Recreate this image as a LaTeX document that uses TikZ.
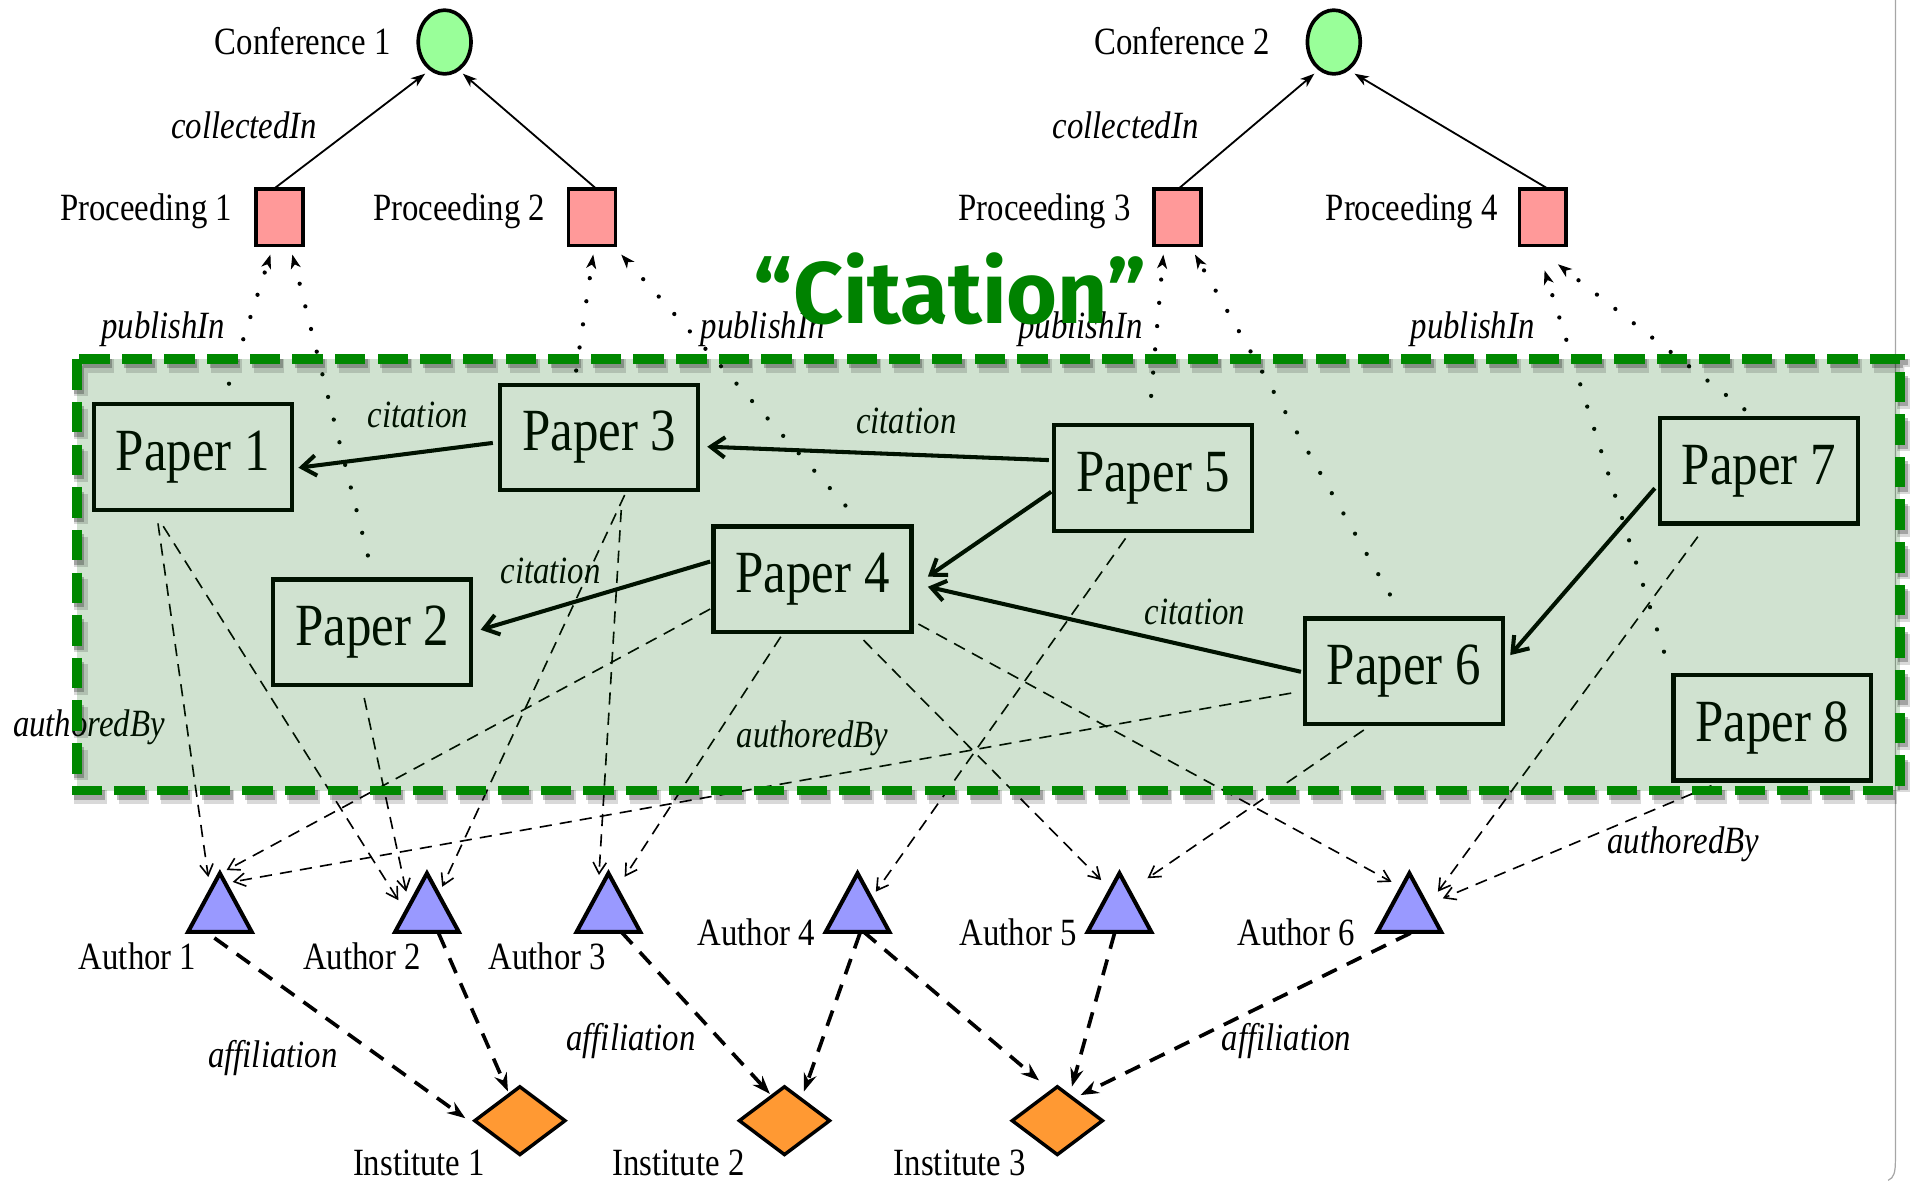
\documentclass[tikz,border=0pt]{standalone}
\usepackage{fontspec}
\setmainfont{Liberation Serif}[FakeStretch=0.85]
\newfontfamily\bannerfont{Fira Sans}
\usetikzlibrary{arrows.meta,calc,shapes.geometric}

\definecolor{confgreen}{RGB}{153,255,153}
\definecolor{procpink}{RGB}{255,153,153}
\definecolor{authblue}{RGB}{153,153,255}
\definecolor{instorange}{RGB}{255,153,51}
\definecolor{groupgreen}{RGB}{0,136,0}
\definecolor{tintgreen}{RGB}{0,98,0}
\definecolor{bannergreen}{RGB}{0,130,0}

\tikzset{
  lbl/.style={font=\fontsize{19}{21}\selectfont, inner sep=0pt, anchor=base},
  rel/.style={font=\itshape\fontsize{19}{21}\selectfont, inner sep=0pt, anchor=base},
  conf/.style={ellipse, draw, line width=1.8pt, fill=confgreen, minimum width=26pt, minimum height=31.4pt, inner sep=0pt},
  proc/.style={rectangle, draw, line width=1.8pt, fill=procpink, minimum width=23pt, minimum height=27.8pt, inner sep=0pt},
  paper/.style={rectangle, draw, line width=2.1pt, minimum width=97.5pt, minimum height=52pt, inner sep=0pt, font=\fontsize{29.5}{30}\selectfont},
  author/.style={rectangle, minimum width=31pt, minimum height=28.5pt, inner sep=0pt},
  authshape/.style={draw, line width=2pt, fill=authblue},
  inst/.style={rectangle, minimum width=44pt, minimum height=33pt, inner sep=0pt},
  instshape/.style={draw, line width=1.7pt, fill=instorange, line join=miter},
  collected/.style={-{Stealth[length=7pt,width=5pt,inset=2pt]}, line width=0.9pt},
  publish/.style={-{Stealth[length=7pt,width=5pt,inset=2pt,line width=0.5pt]}, line width=2.1pt, line cap=round, dash pattern=on 0pt off 11.5pt},
  cites/.style={-{Straight Barb[length=7pt,width=10pt]}, line width=2pt},
  authored/.style={-{Straight Barb[length=5.5pt,width=6.5pt]}, line width=0.8pt, dash pattern=on 6pt off 4pt},
  affil/.style={-{Stealth[length=9pt,width=6.5pt,inset=3pt]}, line width=1.8pt, dash pattern=on 8pt off 5.5pt},
  groupborder/.style={line width=4.8pt, dash pattern=on 15pt off 6pt},
}

\begin{document}
\begin{tikzpicture}[x=0.6pt, y=-0.6pt]
\useasboundingbox (0,0) rectangle (1568,969);

% page frame on the right
\draw[gray!70, line width=0.6pt] (1556,0) -- (1556,952) .. controls (1556,962) and (1555,967) .. (1550,969);

% conferences and proceedings
\node[conf] (conf1) at (365,34.5) {};
\node[conf] (conf2) at (1095,34.5) {};
\node[proc] (proc1) at (229.5,178.5) {};
\node[proc] (proc2) at (486,178.5) {};
\node[proc] (proc3) at (966.5,178.5) {};
\node[proc] (proc4) at (1266.5,178.5) {};

\node[lbl, anchor=base east] (lconf1) at (321,45) {Conference 1};
\node[lbl, anchor=base east] (lconf2) at (1043,45) {Conference 2};
\node[lbl, anchor=base east] (lproc1) at (191,181) {Proceeding 1};
\node[lbl, anchor=base east] (lproc2) at (448,181) {Proceeding 2};
\node[lbl, anchor=base east] (lproc3) at (928.5,181) {Proceeding 3};
\node[lbl, anchor=base east] (lproc4) at (1230,181) {Proceeding 4};

\draw[collected] ($(proc1)+(-4,-24)$) -- ($(conf1)+(-16,26)$);
\draw[collected] ($(proc2)+(3,-24)$) -- ($(conf1)+(15,26)$);
\draw[collected] ($(proc3)+(1.5,-24)$) -- ($(conf2)+(-16,26)$);
\draw[collected] ($(proc4)+(3.5,-24)$) -- ($(conf2)+(17,26)$);
\node[rel] (lcol1) at (200.5,113.5) {collectedIn};
\node[rel] (lcol2) at (924,113.5) {collectedIn};

% papers
\node[paper] (pap1) at (158.3,375.2) {Paper 1};
\node[paper] (pap2) at (305.6,519) {Paper 2};
\node[paper] (pap3) at (492,359.2) {Paper 3};
\node[paper] (pap4) at (667,475.5) {Paper 4};
\node[paper] (pap5) at (946.6,392.5) {Paper 5};
\node[paper] (pap6) at (1152.6,551) {Paper 6};
\node[paper] (pap7) at (1444,386.5) {Paper 7};
\node[paper] (pap8) at (1455,597.5) {Paper 8};

% publishIn
\draw[publish] ($(pap1)+(29.7,-60.2)$) -- ($(proc1)+(-7.5,30.5)$);
\draw[publish] ($(pap2)+(-3.6,-63)$) -- ($(proc1)+(10.5,30.5)$);
\draw[publish] ($(pap3)+(-19,-55)$) -- ($(proc2)+(1,30.5)$);
\draw[publish] ($(pap4)+(27,-60.5)$) -- ($(proc2)+(24,30.5)$);
\draw[publish] ($(pap5)+(-1.6,-67.5)$) -- ($(proc3)+(-11.5,30.5)$);
\draw[publish] ($(pap6)+(-11.6,-63)$) -- ($(proc3)+(14.5,30.5)$);
\draw[publish] ($(pap7)+(-12,-50.5)$) -- ($(proc4)+(12.5,38.5)$);
\draw[publish] ($(pap8)+(-89,-62.5)$) -- ($(proc4)+(1.5,43.5)$);
\node[rel] (lpub1) at (134,277.7) {publishIn};
\node[rel] (lpub2) at (626,277.7) {publishIn};
\node[rel] (lpub3) at (887,277.7) {publishIn};
\node[rel] (lpub4) at (1209,277.7) {publishIn};

% citations
\draw[cites] ($(pap3)+(-87.4,4.4)$) -- ($(pap1)+(86.7,8.8)$);
\draw[cites] ($(pap5)+(-85.6,-14.8)$) -- ($(pap3)+(88.6,7.5)$);
\draw[cites] ($(pap5)+(-83.6,11.2)$) -- ($(pap4)+(94.7,-2.1)$);
\draw[cites] ($(pap4)+(-84,-14.5)$) -- ($(pap2)+(89,-2)$);
\draw[cites] ($(pap6)+(-84.6,0.5)$) -- ($(pap4)+(94.7,6.2)$);
\draw[cites] ($(pap7)+(-85.5,14.3)$) -- ($(pap6)+(87.2,-13.2)$);
\node[rel] (lcit1) at (343,351) {citation};
\node[rel] (lcit2) at (744,356) {citation};
\node[rel] (lcit3) at (452,479) {citation};
\node[rel] (lcit4) at (981,513) {citation};

% authors
\node[author] (a1) at (180.5,741) {};
\node[author] (a2) at (350.5,741) {};
\node[author] (a3) at (499.5,741) {};
\node[author] (a4) at (704,741) {};
\node[author] (a5) at (919,741) {};
\node[author] (a6) at (1157,741) {};

% authoredBy
\draw[authored] ($(pap1)+(-28.6,54.5)$) -- ($(a1)+(-9.5,-21)$);
\draw[authored] ($(pap4)+(-84,24.5)$) -- ($(a1)+(5.5,-26.7)$);
\draw[authored] ($(pap6)+(-92.6,18)$) -- ($(a1)+(10.5,-17)$);
\draw[authored] ($(pap1)+(-24.3,56.8)$) -- ($(a2)+(-23.5,-2)$);
\draw[authored] ($(pap2)+(-6.6,54)$) -- ($(a2)+(-17,-9)$);
\draw[authored] ($(pap3)+(20.8,47.2)$) -- ($(a2)+(12.5,-13)$);
\draw[authored] ($(pap3)+(18,59.5)$) -- ($(a3)+(-7.8,-22.6)$);
\draw[authored] ($(pap4)+(-26,47.2)$) -- ($(a3)+(13.3,-21.2)$);
\draw[authored] ($(pap5)+(-22.6,49.5)$) -- ($(a4)+(15,-9)$);
\draw[authored] ($(pap4)+(41.9,50)$) -- ($(a5)+(-15,-18.5)$);
\draw[authored] ($(pap6)+(-33,48.3)$) -- ($(a5)+(23,-20)$);
\draw[authored] ($(pap4)+(87,36.8)$) -- ($(a6)+(-14.6,-17)$);
\draw[authored] ($(pap7)+(-50.2,54.1)$) -- ($(a6)+(23.4,-9)$);
\draw[authored] ($(pap8)+(-50,47.5)$) -- ($(a6)+(27.4,-3.5)$);
\node[rel] (laut1) at (73,605) {authoredBy};
\node[rel] (laut2) at (667,614) {authoredBy};
\node[rel] (laut3) at (1382,701) {authoredBy};

% group tint, shadow and border
\fill[tintgreen, fill opacity=0.184] (63,295) rectangle (1560,649);
\draw[groupborder, black, opacity=0.15, line width=7pt, shift={(3.5,5.5)}] (63,295) rectangle (1560,649);
\draw[groupborder, black, opacity=0.25, shift={(2,3.5)}] (63,295) rectangle (1560,649);
\draw[groupborder, groupgreen] (63,295) rectangle (1560,649);

% author shapes and labels
\foreach \a in {a1,a2,a3,a4,a5,a6}
  \filldraw[authshape] (\a.north) -- (\a.south east) -- (\a.south west) -- cycle;
\node[lbl] (laa1) at (113,796) {Author 1};
\node[lbl] (laa2) at (297,796) {Author 2};
\node[lbl] (laa3) at (449.5,796) {Author 3};
\node[lbl] (laa4) at (621,776) {Author 4};
\node[lbl] (laa5) at (836,776) {Author 5};
\node[lbl] (laa6) at (1064,776) {Author 6};

% institutes
\node[inst] (i1) at (426.8,920) {};
\node[inst] (i2) at (644,920) {};
\node[inst] (i3) at (868,920) {};
\foreach \i in {i1,i2,i3}
  \filldraw[instshape] (\i.north) -- (\i.east) -- (\i.south) -- (\i.west) -- cycle;
\node[lbl] (lin1) at (344,965) {Institute 1};
\node[lbl] (lin2) at (557,965) {Institute 2};
\node[lbl] (lin3) at (788,965) {Institute 3};

% affiliation
\draw[affil] ($(a1)+(-4.5,29)$) -- ($(i1)+(-44.8,-2)$);
\draw[affil] ($(a2)+(9.5,25)$) -- ($(i1)+(-9.8,-24)$);
\draw[affil] ($(a3)+(10.5,24)$) -- ($(i2)+(-12,-22)$);
\draw[affil] ($(a4)+(2,25)$) -- ($(i2)+(16,-24)$);
\draw[affil] ($(a4)+(5,24)$) -- ($(i3)+(-15,-33)$);
\draw[affil] ($(a5)+(-4,25)$) -- ($(i3)+(12,-28)$);
\draw[affil] ($(a6)+(1,25)$) -- ($(i3)+(19,-21)$);
\node[rel] (laf1) at (224,876) {affiliation};
\node[rel] (laf2) at (518,862) {affiliation};
\node[rel] (laf3) at (1056,862) {affiliation};

% group title
\node[inner sep=0pt, anchor=base, text=bannergreen, font=\bannerfont\bfseries\fontsize{43}{45}\selectfont] (title) at (780,265.5) {“Citation”};
\end{tikzpicture}
\end{document}
